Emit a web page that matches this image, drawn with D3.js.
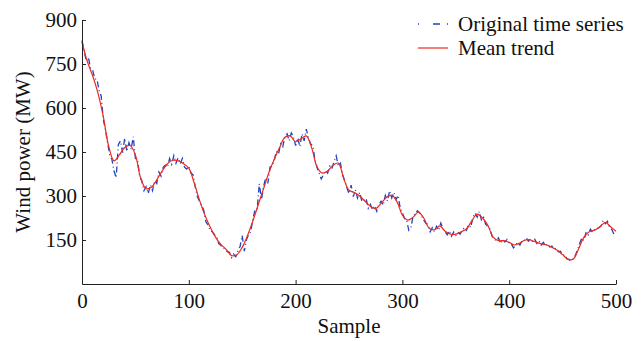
<!DOCTYPE html>
<html>
<head>
<meta charset="utf-8">
<script src="https://cdn.jsdelivr.net/npm/d3@7"></script>
<style>
  body { margin: 0; background: #fff; }
  svg { display: block; }
</style>
</head>
<body>
<div id="chart"></div>
<script>
// Mean trend, one value every 5 samples (0..500)
const trendStep = 5;
const trendValues = [
  825, 758, 710, 650, 570, 470, 420, 440, 465, 472,
  440, 360, 325, 330, 355, 385, 410, 422, 420, 410,
  395, 345, 286, 235, 194, 160, 135, 118, 97, 100,
  125, 165, 215, 270, 325, 380, 425, 465, 500, 505,
  485, 495, 505, 465, 400, 378, 385, 405, 412, 360,
  320, 312, 300, 282, 265, 257, 275, 295, 303, 280,
  235, 218, 228, 245, 225, 190, 185, 198, 180, 170,
  170, 178, 188, 215, 238, 225, 200, 160, 148, 148,
  142, 133, 140, 150, 150, 143, 137, 133, 125, 115,
  100, 84, 85, 120, 160, 178, 183, 195, 210, 195,
  180
];

// Original time series, one value every 2 samples (0..500)
const origStep = 2;
const origValues = [
  830, 795, 760, 772, 735, 728, 700, 698, 660, 640,
  560, 525, 480, 440, 425, 385, 362, 475, 488, 448,
  497, 452, 482, 460, 502, 428, 422, 368, 352, 318,
  332, 308, 338, 318, 352, 343, 382, 368, 398, 405,
  398, 428, 408, 438, 412, 430, 410, 428, 398, 392,
  402, 378, 372, 332, 298, 282, 268, 252, 212, 202,
  182, 178, 168, 162, 138, 132, 122, 120, 110, 108,
  90, 102, 93, 114, 128, 165, 112, 152, 168, 178,
  222, 252, 253, 342, 288, 332, 362, 343, 398, 402,
  422, 452, 443, 478, 468, 502, 512, 488, 515, 503,
  472, 498, 468, 512, 488, 528, 498, 478, 472, 428,
  398, 378, 358, 372, 387, 378, 402, 393, 417, 437,
  403, 412, 373, 352, 328, 308, 337, 298, 322, 293,
  312, 283, 282, 292, 258, 272, 253, 267, 248, 272,
  282, 268, 302, 283, 318, 293, 312, 288, 302, 258,
  242, 223, 217, 183, 192, 232, 238, 250, 243, 232,
  218, 207, 203, 178, 192, 178, 197, 183, 208, 188,
  177, 168, 182, 163, 177, 166, 177, 170, 182, 192,
  183, 202, 193, 227, 242, 228, 247, 218, 227, 203,
  197, 188, 162, 153, 147, 157, 138, 152, 143, 152,
  138, 137, 123, 132, 142, 133, 147, 146, 157, 146,
  154, 143, 152, 138, 147, 133, 142, 130, 137, 126,
  129, 118, 122, 110, 112, 98, 100, 86, 84, 78,
  87, 98, 117, 138, 157, 148, 177, 168, 187, 176,
  187, 188, 192, 198, 217, 206, 214, 193, 187, 170,
  175
];

const xTicks = [0, 100, 200, 300, 400, 500];
const yTicks = [150, 300, 450, 600, 750, 900];
const legendLabels = ['Original time series', 'Mean trend'];

const width = 642, height = 341;
const margin = { top: 20, right: 26, bottom: 57, left: 82 };
const innerWidth = width - margin.left - margin.right;
const innerHeight = height - margin.top - margin.bottom;
const fontFamily = '"Liberation Serif", "Times New Roman", serif';
const blue = '#2342c0';
const red = '#ee2a1e';

const svg = d3.select('#chart').append('svg')
  .attr('width', width)
  .attr('height', height)
  .attr('font-family', fontFamily)
  .attr('font-size', 21);

const g = svg.append('g')
  .attr('transform', `translate(${margin.left},${margin.top})`);

const xScale = d3.scaleLinear().domain([0, 500]).range([0, innerWidth]);
const yScale = d3.scaleLinear().domain([0, 900]).range([innerHeight, 0]);

const origData = origValues.map((v, i) => [i * origStep, v]);
const trendData = trendValues.map((v, i) => [i * trendStep, v]);

// Original series (drawn underneath)
g.append('path')
  .datum(origData)
  .attr('fill', 'none')
  .attr('stroke', blue)
  .attr('stroke-width', 1.3)
  .attr('stroke-dasharray', '6,3,1,3')
  .attr('d', d3.line().x(d => xScale(d[0])).y(d => yScale(d[1])));

// Mean trend (on top)
g.append('path')
  .datum(trendData)
  .attr('fill', 'none')
  .attr('stroke', red)
  .attr('stroke-width', 1.2)
  .attr('d', d3.line()
    .x(d => xScale(d[0]))
    .y(d => yScale(d[1]))
    .curve(d3.curveCatmullRom.alpha(0.5)));

// Axes, ticks pointing inward
const xAxis = g.append('g')
  .attr('transform', `translate(0,${innerHeight})`)
  .call(d3.axisBottom(xScale).tickValues(xTicks).tickSize(-4).tickSizeOuter(0).tickPadding(9));

const yAxis = g.append('g')
  .call(d3.axisLeft(yScale).tickValues(yTicks).tickSize(-4).tickSizeOuter(0).tickPadding(5));

[xAxis, yAxis].forEach(a => {
  a.attr('font-family', fontFamily).attr('font-size', 21);
  a.selectAll('path, line').attr('stroke', '#222').attr('stroke-width', 1);
  a.selectAll('text').attr('fill', '#111');
});

// Axis labels
svg.append('text')
  .attr('x', margin.left + innerWidth / 2)
  .attr('y', 333)
  .attr('text-anchor', 'middle')
  .attr('fill', '#111')
  .text('Sample');

svg.append('text')
  .attr('transform', `translate(30,${margin.top + innerHeight / 2}) rotate(-90)`)
  .attr('text-anchor', 'middle')
  .attr('fill', '#111')
  .text('Wind power (MW)');

// Legend
const legend = svg.append('g').attr('transform', 'translate(418,24)');
legendLabels.forEach((label, i) => {
  const row = legend.append('g').attr('transform', `translate(0,${i * 24})`);
  row.append('line')
    .attr('x1', 0).attr('x2', 30)
    .attr('y1', 0).attr('y2', 0)
    .attr('stroke', i === 0 ? blue : red)
    .attr('stroke-width', i === 0 ? 1.3 : 1.2)
    .attr('stroke-dasharray', i === 0 ? '1,14,7,7,1' : null);
  row.append('text')
    .attr('x', 40)
    .attr('y', 7)
    .attr('fill', '#111')
    .text(label);
});
</script>
</body>
</html>
